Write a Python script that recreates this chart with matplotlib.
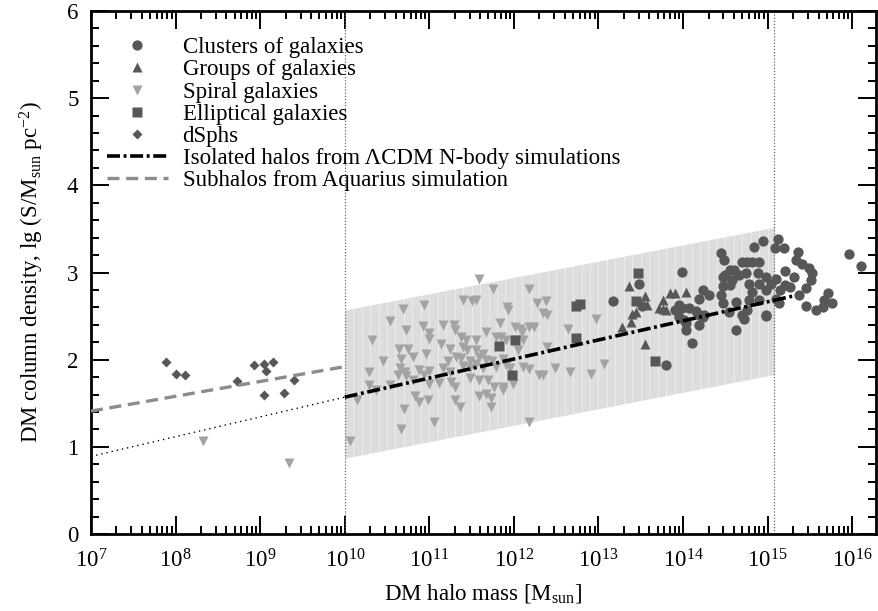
import matplotlib
matplotlib.use('Agg')
import matplotlib.pyplot as plt
from matplotlib.ticker import LogLocator, MultipleLocator, LogFormatterSciNotation
import numpy as np

plt.rcParams['font.family'] = ['Liberation Serif', 'DejaVu Serif']
plt.rcParams['mathtext.fontset'] = 'custom'
plt.rcParams['mathtext.rm'] = 'Liberation Serif'
plt.rcParams['mathtext.it'] = 'Liberation Serif:italic'
plt.rcParams['mathtext.bf'] = 'Liberation Serif:bold'

# data: lg(M/Msun), lg(S)
clusters_lgm = [13.17, 13.48, 13.52, 13.80, 13.95, 13.91, 13.99, 14.07, 13.95, 14.01,
                14.03, 14.03, 14.11, 13.99, 14.23, 14.19, 14.31, 14.15, 14.23, 14.19,
                14.25, 14.19, 14.62, 14.98, 14.62, 14.72, 14.95, 15.12, 14.84, 15.09,
                15.19, 15.36, 14.45, 14.48, 15.96, 16.10, 15.33, 15.41, 14.70, 14.76,
                14.82, 14.90, 14.60, 15.21, 15.49, 15.53, 14.47, 14.66, 14.74, 14.88,
                14.98, 15.10, 15.31, 15.51, 14.47, 14.56, 14.78, 14.90, 15.04, 15.21,
                15.45, 15.15, 15.27, 14.45, 14.82, 14.98, 15.37, 15.71, 14.47, 14.78,
                14.90, 15.10, 15.14, 15.67, 15.76, 15.45, 15.57, 15.65, 14.54, 14.70,
                14.76, 14.98, 14.50, 14.58, 14.56]
clusters_s = [2.67, 2.87, 2.62, 1.94, 2.63, 2.57, 2.59, 2.59, 2.49, 2.45,
              2.34, 2.42, 2.19, 3.01, 2.80, 2.70, 2.74, 2.56, 2.49, 2.51,
              2.51, 2.40, 2.34, 2.50, 2.66, 2.47, 3.36, 3.38, 3.29, 3.28,
              3.28, 3.24, 3.22, 3.14, 3.21, 3.07, 3.14, 3.10, 3.12, 3.12,
              3.12, 3.12, 3.03, 3.02, 3.05, 2.99, 2.95, 2.97, 2.99, 2.99,
              2.95, 2.93, 2.95, 2.91, 2.84, 2.86, 2.87, 2.87, 2.87, 2.86,
              2.82, 2.80, 2.83, 2.74, 2.78, 2.80, 2.74, 2.77, 2.65, 2.68,
              2.68, 2.70, 2.65, 2.68, 2.65, 2.62, 2.57, 2.61, 2.55, 2.51,
              2.57, 2.51, 2.97, 2.91, 3.03]

groups_lgm = [13.36, 13.28, 13.39, 13.40, 13.44, 13.55, 13.55, 13.72, 13.76, 13.84,
              13.91, 14.03, 13.76, 13.57, 13.80]
groups_s = [2.85, 2.37, 2.43, 2.52, 2.55, 2.73, 2.18, 2.59, 2.68, 2.77,
            2.76, 2.78, 2.58, 2.63, 2.57]

spirals_lgm = [11.59, 11.75, 12.18, 11.40, 11.51, 11.55, 10.69, 10.94, 11.92, 11.93,
               12.27, 12.38, 12.34, 12.39, 10.53, 10.73, 10.92, 11.00, 11.16, 11.29,
               11.30, 11.67, 11.84, 12.01, 12.07, 12.10, 12.18, 12.24, 12.64, 12.97,
               10.32, 11.00, 11.37, 11.43, 11.55, 11.79, 11.85, 11.91, 12.03, 12.11,
               10.64, 10.75, 10.81, 10.96, 11.14, 11.24, 11.40, 11.44, 11.55, 11.63,
               11.59, 10.45, 10.67, 11.22, 11.32, 11.38, 11.48, 11.55, 11.67, 11.74,
               11.87, 12.05, 12.39, 10.29, 10.65, 10.71, 10.88, 11.00, 11.16, 11.24,
               11.40, 11.48, 11.63, 11.79, 11.91, 11.95, 12.11, 12.18, 12.30, 12.34,
               12.49, 12.66, 12.91, 13.07, 10.29, 10.37, 10.53, 10.63, 10.73, 10.81,
               10.94, 11.00, 11.12, 11.26, 11.30, 11.48, 11.59, 11.69, 11.87, 11.99,
               11.77, 11.87, 10.14, 10.83, 10.88, 10.98, 11.30, 11.36, 11.59, 11.67,
               11.73, 11.73, 10.70, 11.06, 12.18, 10.67, 10.06, 8.33, 9.34]
spirals_s = [2.92, 2.81, 2.81, 2.68, 2.67, 2.69, 2.58, 2.63, 2.61, 2.57,
             2.65, 2.67, 2.53, 2.51, 2.44, 2.34, 2.39, 2.31, 2.40, 2.40,
             2.34, 2.32, 2.42, 2.38, 2.35, 2.32, 2.37, 2.38, 2.35, 2.47,
             2.22, 2.24, 2.26, 2.22, 2.22, 2.26, 2.26, 2.22, 2.22, 2.22,
             2.12, 2.12, 2.03, 2.07, 2.18, 2.12, 2.15, 2.11, 2.11, 2.07,
             2.03, 1.98, 2.01, 1.99, 2.03, 2.02, 1.99, 1.95, 2.00, 1.99,
             2.01, 2.11, 2.14, 1.86, 1.90, 1.86, 1.88, 1.87, 1.90, 1.86,
             1.93, 1.91, 1.90, 1.92, 1.94, 1.90, 1.92, 1.89, 1.82, 1.82,
             1.90, 1.86, 1.84, 1.95, 1.71, 1.65, 1.71, 1.82, 1.81, 1.77,
             1.82, 1.72, 1.73, 1.74, 1.69, 1.79, 1.77, 1.77, 1.69, 1.72,
             1.69, 1.65, 1.54, 1.58, 1.51, 1.54, 1.54, 1.46, 1.58, 1.61,
             1.56, 1.46, 1.43, 1.29, 1.29, 1.20, 1.07, 1.07, 0.82]

ellipticals_lgm = [11.82, 12.01, 11.98, 12.73, 12.78, 12.73, 13.47, 13.44, 13.67]
ellipticals_s = [2.16, 2.22, 1.82, 2.62, 2.64, 2.25, 2.99, 2.67, 1.99]

dsph_lgm = [7.89, 8.00, 8.11, 8.73, 8.93, 9.04, 9.07, 9.15, 9.40, 9.05, 9.28]
dsph_s = [1.97, 1.84, 1.82, 1.75, 1.94, 1.95, 1.87, 1.97, 1.77, 1.59, 1.62]

# Lambda-CDM relation (thick dash-dot) and its extrapolation (thin dotted)
iso_lgm = [10.0, 15.3]
iso_s = [1.57, 2.73]
iso_ext_lgm = [7.0, 10.0]
iso_ext_s = [0.89, 1.57]

# Aquarius subhalos
sub_lgm = [7.0, 10.0]
sub_s = [1.41, 1.92]

# shaded scatter band
band_lgm = [10.0, 15.08]
band_lo = [0.87, 1.83]
band_hi = [2.57, 3.52]

vlines_lgm = [10.0, 15.08]

dark = '#575757'
light = '#a3a3a3'

fig = plt.figure(figsize=(8.79, 6.11), dpi=100)
ax = fig.add_axes([0.1035, 0.126, 0.893, 0.856])

bx = 10 ** np.array(band_lgm)
ax.fill_between(bx, band_lo, band_hi, color='#dddddd', lw=0, zorder=1)
# faint stripes in the band
for xv in np.arange(band_lgm[0] + 0.1, band_lgm[1], 0.1):
    lo = np.interp(xv, band_lgm, band_lo)
    hi = np.interp(xv, band_lgm, band_hi)
    ax.plot([10 ** xv] * 2, [lo, hi], color='white', lw=0.5, alpha=0.6, zorder=1.5)

for v in vlines_lgm:
    ax.axvline(10 ** v, color='#666666', ls=(0, (1, 1.5)), lw=0.9, zorder=2)

ax.plot(10 ** np.array(iso_ext_lgm), iso_ext_s, color='black', lw=1.0,
        ls=(0, (1, 2.8)), zorder=3)

ax.plot(10 ** np.array(clusters_lgm), clusters_s, ls='none', marker='o', ms=7.4,
        color=dark, mec='none', label='Clusters of galaxies', zorder=4)
ax.plot(10 ** np.array(groups_lgm), groups_s, ls='none', marker='^', ms=7.0,
        color=dark, mec='none', label='Groups of galaxies', zorder=4)
ax.plot(10 ** np.array(spirals_lgm), spirals_s, ls='none', marker='v', ms=7.4,
        color=light, mec='none', label='Spiral galaxies', zorder=4)
ax.plot(10 ** np.array(ellipticals_lgm), ellipticals_s, ls='none', marker='s', ms=6.6,
        color=dark, mec='none', label='Elliptical galaxies', zorder=4)
ax.plot(10 ** np.array(dsph_lgm), dsph_s, ls='none', marker='D', ms=4.8,
        color=dark, mec='none', label='dSphs', zorder=4)

ax.plot(10 ** np.array(iso_lgm), iso_s, color='black', lw=2.6,
        ls=(0, (3.6, 1.0, 0.8, 1.0)), label='Isolated halos from \u039bCDM N-body simulations', zorder=5)
ax.plot(10 ** np.array(sub_lgm), sub_s, color='#8c8c8c', lw=2.4,
        ls=(0, (3.6, 2.0)), label='Subhalos from Aquarius simulation', zorder=5)

ax.set_xscale('log')
ax.set_xlim(1e7, 10 ** 16.28)
ax.set_ylim(0, 6)
ax.xaxis.set_major_locator(LogLocator(base=10, numticks=20))
ax.xaxis.set_minor_locator(LogLocator(base=10, subs=np.arange(2, 10), numticks=20))
ax.xaxis.set_major_formatter(LogFormatterSciNotation())
ax.yaxis.set_major_locator(MultipleLocator(1))
ax.yaxis.set_minor_locator(MultipleLocator(0.2))

ax.tick_params(which='both', direction='in', top=True, right=True, labelsize=16.5)
ax.tick_params(which='major', length=13, width=1.4)
ax.tick_params(which='minor', length=6, width=1.4)
ax.tick_params(axis='x', which='major', pad=11)
ax.tick_params(axis='y', which='major', pad=9)
for sp in ax.spines.values():
    sp.set_linewidth(2.0)

ax.set_xlabel('DM halo mass [M$_{\\mathrm{sun}}$]', fontsize=16.5, labelpad=7)
ax.set_ylabel('DM column density, lg (S/M$_{\\mathrm{sun}}$ pc$^{-2}$)', fontsize=16.5, labelpad=15)

ax.legend(loc='upper left', bbox_to_anchor=(0.02, 0.95), frameon=False, fontsize=16.5,
          handlelength=2.66, handletextpad=0.65, labelspacing=0.05, borderpad=0,
          borderaxespad=0, numpoints=1)

fig.savefig('out.png', dpi=100)
